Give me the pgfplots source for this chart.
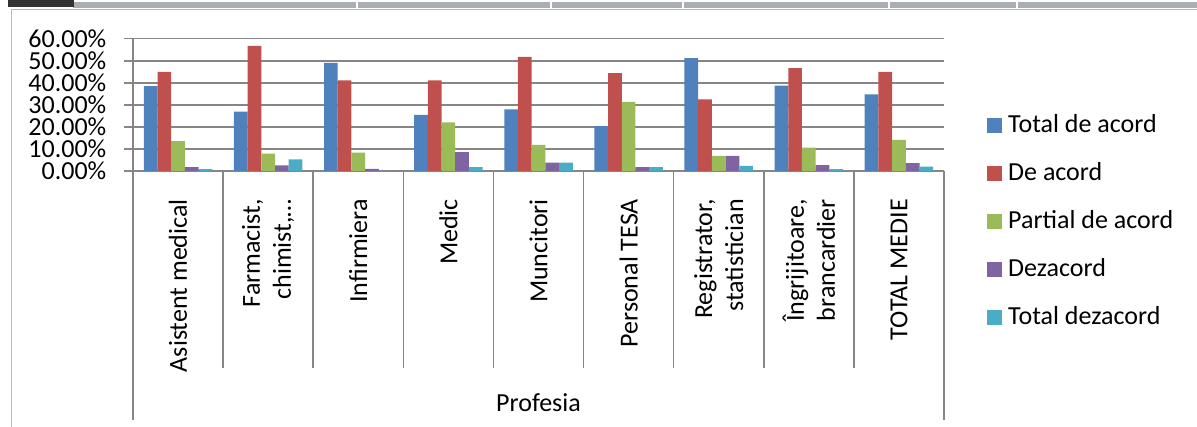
\documentclass[border=0pt]{standalone}
\usepackage{fontspec}
\setmainfont{Carlito}
\usepackage{pgfplots}
\pgfplotsset{compat=1.18}

\definecolor{cBlue}{HTML}{4F81BD}
\definecolor{cRed}{HTML}{C0504D}
\definecolor{cGreen}{HTML}{9BBB59}
\definecolor{cPurple}{HTML}{8064A2}
\definecolor{cCyan}{HTML}{4BACC6}
\definecolor{gridgray}{HTML}{868686}
\definecolor{chrome}{HTML}{ABAEB2}
\definecolor{chromedark}{HTML}{333333}

\newcommand\cf{\fontsize{26}{31}\selectfont}

% values in percent, categories at 0..8
\pgfplotstableread{
x  totacord  deacord  partial  dezacord  totdez
0  38.5      44.9     13.5     1.7       0.8
1  26.9      56.7      7.9     2.6       5.3
2  49.0      41.1      8.3     1.0       0.0
3  25.5      41.1     22.1     8.6       1.8
4  28.0      51.8     11.8     3.8       3.8
5  20.3      44.4     31.4     1.7       1.8
6  51.2      32.5      6.9     6.9       2.3
7  38.7      46.6     10.6     2.7       0.9
8  34.8      45.0     14.1     3.6       2.0
}\profdata

\begin{document}
\begin{tikzpicture}
\useasboundingbox (0pt,0pt) rectangle (1197pt,427pt);
% window chrome and chart frame
\fill[chrome] (73pt,419pt) rectangle (1197pt,425pt);
\fill[chromedark] (8pt,420pt) rectangle (74pt,427pt);
\foreach \s in {357,551,683,889,1017} \fill[white] (\s pt-1pt,419pt) rectangle (\s pt+1pt,425pt);
\draw[gray!55, line width=1pt] (11pt,0pt) -- (11pt,417pt) -- (1197pt,417pt);

\begin{axis}[
    at={(178.06pt,256pt)}, anchor=origin,
    scale only axis,
    width=811pt, height=132.3pt,
    ybar=0pt, bar width=13.7pt,
    xmin=-0.5, xmax=8.5,
    ymin=0, ymax=60,
    axis x line=bottom, axis y line=left,
    axis line style={-, draw=gridgray, line width=1.6pt},
    ymajorgrids,
    grid style={draw=gridgray, line width=1.6pt},
    ytick={0,10,...,60},
    tick align=outside,
    major tick length=9pt,
    ytick style={draw=gridgray, line width=1.6pt},
    xtick style={draw=none},
    xtick={0,...,8},
    xticklabels={Asistent medical, {Farmacist,\\chimist,…}, Infirmiera, Medic, Muncitori, Personal TESA, {Registrator,\\statistician}, {Îngrijitoare,\\brancardier}, TOTAL MEDIE},
    /pgf/number format/assume math mode=true,
    yticklabel={\pgfmathprintnumber[fixed,fixed zerofill,precision=2]{\tick}\%},
    tick label style={font=\cf},
    yticklabel style={anchor=east, inner sep=0pt, xshift=-17.5pt},
    xticklabel style={rotate=90, anchor=east, align=right, inner sep=0pt},
    xticklabel shift=19pt,
    xlabel={Profesia},
    label style={font=\cf},
    xlabel style={at={(axis description cs:0.5,-1.7536)}, anchor=center},
    legend style={at={(axis description cs:1.053,-0.385)}, anchor=west,
        draw=none, fill=none, inner sep=0pt, font=\cf, row sep=25pt,
        nodes={inner sep=0pt, text height=18pt, text depth=5pt},
        /tikz/every odd column/.append style={column sep=6pt}},
    legend cell align=left,
    legend image code/.code={\fill[#1, draw=none] (0pt,-7.5pt) rectangle (15pt,7.5pt);},
]
\addplot[fill=cBlue, draw=none] table[x=x, y=totacord] {\profdata};
\addplot[fill=cRed, draw=none] table[x=x, y=deacord] {\profdata};
\addplot[fill=cGreen, draw=none] table[x=x, y=partial] {\profdata};
\addplot[fill=cPurple, draw=none] table[x=x, y=dezacord] {\profdata};
\addplot[fill=cCyan, draw=none] table[x=x, y=totdez] {\profdata};
\legend{Total de acord, De acord, Partial de acord, Dezacord, Total dezacord}
\end{axis}

% category separators below the axis
\foreach \i in {1,...,8} \draw[gridgray, line width=1.6pt] ({(133+\i*811/9)*1pt},256pt) -- ({(133+\i*811/9)*1pt},59pt);
\draw[gridgray, line width=1.6pt] (133pt,256pt) -- (133pt,7pt);
\draw[gridgray, line width=1.6pt] (944pt,256pt) -- (944pt,7pt);
\end{tikzpicture}
\end{document}
